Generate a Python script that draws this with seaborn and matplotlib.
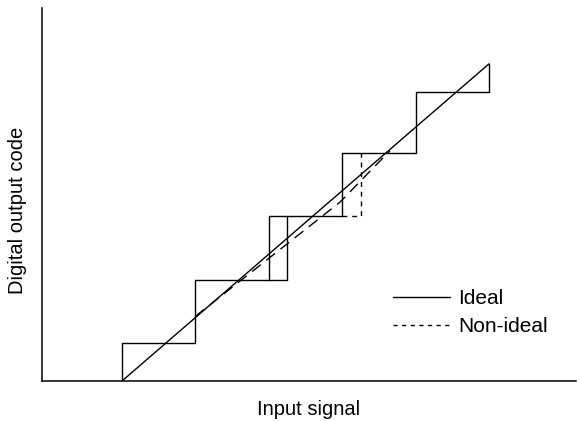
import seaborn as sns
import matplotlib.pyplot as plt
from matplotlib.lines import Line2D

# Data (x in LSB steps, y in output codes)
ideal_line_x = [0, 5]
ideal_line_y = [0, 5]

ideal_step_x = [0, 0, 1, 1, 2, 2, 3, 3, 4, 4, 5, 5]
ideal_step_y = [0, 0.6, 0.6, 1.6, 1.6, 2.6, 2.6, 3.6, 3.6, 4.55, 4.55, 5]

# non-ideal code 2 is wider (drawn solid where it shows in the original)
wide_step_x = [2, 2.25, 2.25]
wide_step_y = [1.6, 1.6, 2.6]

nonideal_step_x = [3, 3.26, 3.26]
nonideal_step_y = [2.6, 2.6, 3.6]

nonideal_line_x = [1.0, 2.97, 3.65]
nonideal_line_y = [1.02, 2.82, 3.63]

sns.set_style("white")
plt.rcParams['font.family'] = ['Liberation Sans', 'DejaVu Sans']
plt.rcParams['text.color'] = 'black'
plt.rcParams['axes.labelcolor'] = 'black'

fig = plt.figure(figsize=(5.77, 4.21), dpi=100)
ax = fig.add_axes([42 / 577, 1 - 381 / 421, 534 / 577, 373 / 421])

lw = 1.0
sns.lineplot(x=ideal_line_x, y=ideal_line_y, sort=False, estimator=None,
             color='black', lw=lw, ax=ax)
sns.lineplot(x=ideal_step_x, y=ideal_step_y, sort=False, estimator=None,
             color='black', lw=lw, ax=ax)
sns.lineplot(x=wide_step_x, y=wide_step_y, sort=False, estimator=None,
             color='black', lw=lw, ax=ax)
sns.lineplot(x=nonideal_step_x, y=nonideal_step_y, sort=False, estimator=None,
             color='black', lw=lw, ax=ax)
ax.lines[-1].set_linestyle((0, (3.5, 3.5)))
sns.lineplot(x=nonideal_line_x, y=nonideal_line_y, sort=False, estimator=None,
             color='black', lw=lw, ax=ax)
ax.lines[-1].set_linestyle((0, (8, 5)))

ax.set_xlim(-1.09, 6.185)
ax.set_ylim(0, 5.88)
ax.set_xticks([])
ax.set_yticks([])
sns.despine(ax=ax)
for s in ['left', 'bottom']:
    ax.spines[s].set_linewidth(1.1)
    ax.spines[s].set_color('black')

ax.set_xlabel('Input signal', fontsize=14.5)
ax.set_ylabel('Digital output code', fontsize=14.5)
ax.xaxis.set_label_coords(0.5, -0.051)
ax.yaxis.set_label_coords(-0.028, 0.458)

handles = [Line2D([], [], color='black', lw=lw),
           Line2D([], [], color='black', lw=lw, ls=(0, (3, 3.2)))]
fig.legend(handles, ['Ideal', 'Non-ideal'], loc='upper left',
           bbox_to_anchor=(393 / 577, 1 - 289 / 421), frameon=False,
           fontsize=15, handlelength=2.75, handletextpad=0.4,
           borderpad=0, borderaxespad=0, labelspacing=0.45)

plt.savefig("out.png", dpi=100)
